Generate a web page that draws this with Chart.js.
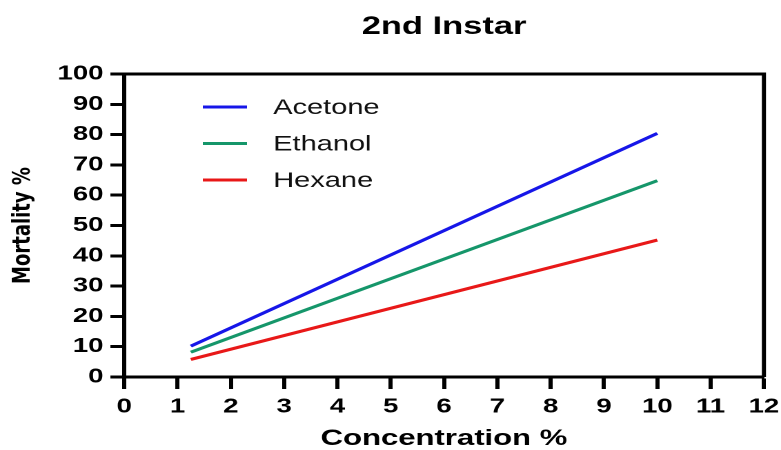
<!DOCTYPE html>
<html>
<head>
<meta charset="utf-8">
<script src="https://cdn.jsdelivr.net/npm/chart.js@4.4.0/dist/chart.umd.min.js"></script>
<style>
  html, body { margin: 0; padding: 0; background: #fff; overflow: hidden; }
  /* el original esta estirado en horizontal: se dibuja angosto y se escala */
  #wrap { width: 566px; height: 450px; transform: scaleX(1.37986); transform-origin: 0 0; }
</style>
</head>
<body>
<div id="wrap"><canvas id="line-chart"></canvas></div>
<script>
// datos
const concentration = [1.25, 10];
const acetone = [10.2, 80.4];
const ethanol = [8.2, 64.8];
const hexane = [5.8, 45.2];
const seriesNames = ['Acetone', 'Ethanol', 'Hexane'];
const seriesColors = ['#1616e8', '#15966a', '#e81818'];
const xTicks = [0, 1, 2, 3, 4, 5, 6, 7, 8, 9, 10, 11, 12];
const yTicks = [0, 10, 20, 30, 40, 50, 60, 70, 80, 90, 100];
const chartTitle = '2nd Instar';

const FONT = "'Liberation Sans', Arial, sans-serif";

function toPoints(xs, ys) {
    return xs.map(function (x, i) { return { x: x, y: ys[i] }; });
}

// marco, titulo y leyenda dibujados a mano
const framePlugin = {
    id: 'frame',
    afterDatasetsDraw: function (chart) {
        const a = chart.chartArea;
        const ctx = chart.ctx;
        ctx.save();
        ctx.strokeStyle = '#000';
        ctx.lineWidth = 3;
        ctx.beginPath();
        ctx.moveTo(a.left, a.top);
        ctx.lineTo(a.right, a.top);
        ctx.lineTo(a.right, a.bottom);
        ctx.stroke();

        // titulo centrado sobre el area del grafico
        ctx.fillStyle = '#000';
        ctx.font = "bold 25px " + FONT;
        ctx.textAlign = 'center';
        ctx.textBaseline = 'middle';
        ctx.fillText(chartTitle, (a.left + a.right) / 2, 27);

        // leyenda
        ctx.textAlign = 'left';
        ctx.font = "21px " + FONT;
        chart.data.datasets.forEach(function (ds, i) {
            const y = a.top + 33 + i * 36.5;
            ctx.strokeStyle = ds.borderColor;
            ctx.lineWidth = 3;
            ctx.beginPath();
            ctx.moveTo(a.left + 57, y);
            ctx.lineTo(a.left + 89, y);
            ctx.stroke();
            ctx.fillStyle = '#111';
            ctx.fillText(ds.label, a.left + 108, y + 1);
        });
        ctx.restore();
    }
};

const canvas = document.getElementById('line-chart');
const chart = new Chart(canvas.getContext('2d'), {
    type: 'line',
    data: {
        datasets: [
            { label: seriesNames[0], data: toPoints(concentration, acetone), borderColor: seriesColors[0] },
            { label: seriesNames[1], data: toPoints(concentration, ethanol), borderColor: seriesColors[1] },
            { label: seriesNames[2], data: toPoints(concentration, hexane), borderColor: seriesColors[2] }
        ]
    },
    options: {
        responsive: true,
        maintainAspectRatio: false,
        animation: false,
        devicePixelRatio: 2,
        layout: { padding: { top: 74, right: 12.4, bottom: 0, left: 0 } },
        elements: {
            line: { borderWidth: 3, tension: 0, fill: false },
            point: { radius: 0, hoverRadius: 0 }
        },
        plugins: {
            legend: { display: false },
            tooltip: { enabled: false },
            title: { display: false }
        },
        scales: {
            x: {
                type: 'linear',
                min: 0,
                max: 12,
                afterBuildTicks: function (scale) {
                    scale.ticks = xTicks.map(function (v) { return { value: v }; });
                },
                afterFit: function (scale) {
                    scale.height = 73;
                    scale.paddingLeft = 0;
                    scale.paddingRight = 0;
                },
                grid: { drawOnChartArea: false, drawTicks: true, tickLength: 12, tickWidth: 3, tickColor: '#000' },
                border: { display: true, color: '#000', width: 3 },
                ticks: { color: '#000', padding: 6, maxRotation: 0, font: { family: FONT, size: 20, weight: 'bold' } },
                title: {
                    display: true,
                    text: 'Concentration %',
                    color: '#000',
                    padding: { top: 0, bottom: 0 },
                    font: { family: FONT, size: 22.5, weight: 'bold', lineHeight: 1 }
                }
            },
            y: {
                type: 'linear',
                min: 0,
                max: 100,
                afterBuildTicks: function (scale) {
                    scale.ticks = yTicks.map(function (v) { return { value: v }; });
                },
                afterFit: function (scale) {
                    scale.width = 90;
                    scale.paddingTop = 0;
                    scale.paddingBottom = 0;
                },
                grid: { drawOnChartArea: false, drawTicks: true, tickLength: 10, tickWidth: 3, tickColor: '#000' },
                border: { display: true, color: '#000', width: 3 },
                ticks: { color: '#000', padding: 5, font: { family: FONT, size: 20, weight: 'bold' } },
                title: {
                    display: true,
                    text: 'Mortality %',
                    color: '#000',
                    padding: { top: 6, bottom: 0 },
                    font: { family: "'DejaVu Sans', " + FONT, size: 18, weight: 'bold' }
                }
            }
        }
    },
    plugins: [framePlugin]
});
canvas.chart = chart;
</script>
</body>
</html>
